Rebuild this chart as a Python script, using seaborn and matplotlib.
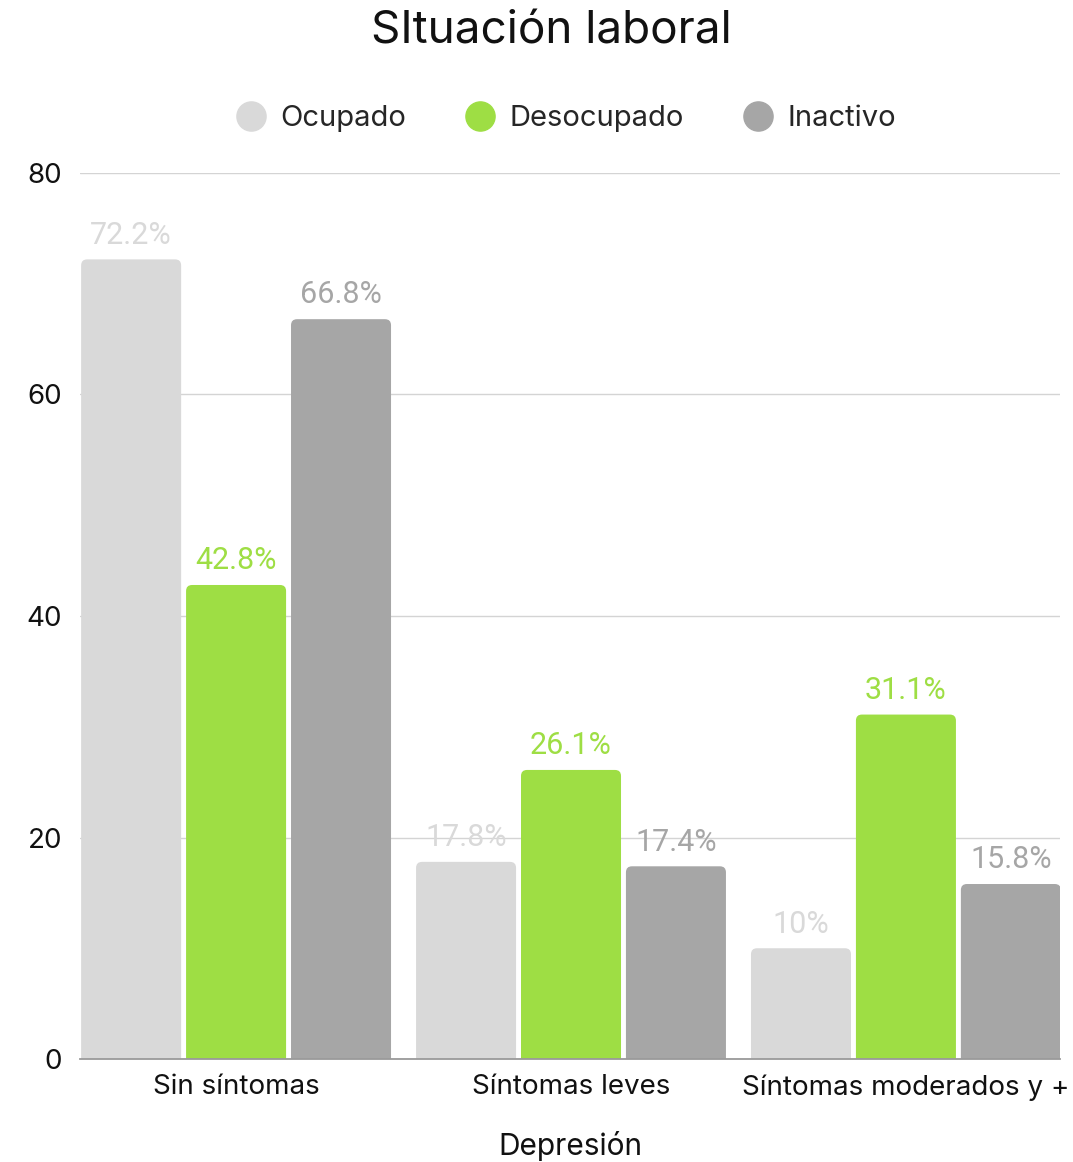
import pandas as pd
import numpy as np
import seaborn as sns
import matplotlib
matplotlib.use('Agg')
import matplotlib.pyplot as plt
from matplotlib.lines import Line2D
from matplotlib.patches import FancyBboxPatch

categorias = ['Sin síntomas', 'Síntomas leves', 'Síntomas moderados y +']
grupos = ['Ocupado', 'Desocupado', 'Inactivo']
ocupado = [72.2, 17.8, 10]
desocupado = [42.8, 26.1, 31.1]
inactivo = [66.8, 17.4, 15.8]
etiquetas = [['72.2%', '17.8%', '10%'],
             ['42.8%', '26.1%', '31.1%'],
             ['66.8%', '17.4%', '15.8%']]
colores = ['#d9d9d9', '#9ede44', '#a6a6a6']

df = pd.DataFrame({
    'Depresión': categorias * 3,
    'Situación': [g for g in grupos for _ in categorias],
    'Valor': ocupado + desocupado + inactivo,
})

sns.set_style('white')
plt.rcParams['font.family'] = ['Inter', 'DejaVu Sans']

fig = plt.figure(figsize=(10.73, 11.62), dpi=100)
ax = fig.add_axes([80/1073, 1 - 1059/1162, 980/1073, 886/1162])

sns.barplot(data=df, x='Depresión', y='Valor', hue='Situación',
            palette=colores, width=0.94, gap=0.047, saturation=1,
            legend=False, ax=ax, zorder=3)

ax.set_xlim(-0.466, 2.46)
ax.set_ylim(0, 80)
ax.set_yticks([0, 20, 40, 60, 80])
ax.grid(axis='y', color='#d4d4d4', linewidth=1, zorder=0)
ax.set_axisbelow(True)
for s in ['top', 'right', 'left']:
    ax.spines[s].set_visible(False)
ax.spines['bottom'].set_color('#9a9a9a')
ax.spines['bottom'].set_linewidth(1.3)
ax.spines['bottom'].set_zorder(4)
ax.tick_params(axis='both', length=0, labelsize=20, colors='#111111')
ax.tick_params(axis='y', pad=13)
ax.tick_params(axis='x', pad=11)
ax.set_xlabel('Depresión', fontsize=21.5, labelpad=22, color='#111111')
ax.set_ylabel('')

# etiquetas de valor
for i, cont in enumerate(ax.containers):
    ax.bar_label(cont, labels=etiquetas[i], padding=7, color=colores[i],
                 fontsize=22, family=['Roboto', 'DejaVu Sans'])

# esquinas redondeadas arriba
px_x = 335.0
px_y = 886 / 80
for p in list(ax.patches):
    x, w, h = p.get_x(), p.get_width(), p.get_height()
    fc = p.get_facecolor()
    p.remove()
    ax.add_patch(FancyBboxPatch((x, -2), w, h + 2,
                                boxstyle='round,pad=0,rounding_size=0.018',
                                mutation_aspect=px_x / px_y,
                                fc=fc, ec='none', zorder=3))

fig.text(551/1073, 1 - 31/1162, 'SItuación laboral', ha='center', va='center',
         fontsize=33, color='#111111')

handles = [Line2D([0], [0], marker='o', linestyle='', markersize=21,
                  markerfacecolor=c, markeredgecolor=c) for c in colores]
fig.legend(handles, grupos, loc='center', bbox_to_anchor=(563/1073, 1 - 119/1162),
           ncol=3, frameon=False, fontsize=21, handlelength=1.4,
           handletextpad=0.3, columnspacing=1.85)

fig.savefig('out.png', dpi=100)
